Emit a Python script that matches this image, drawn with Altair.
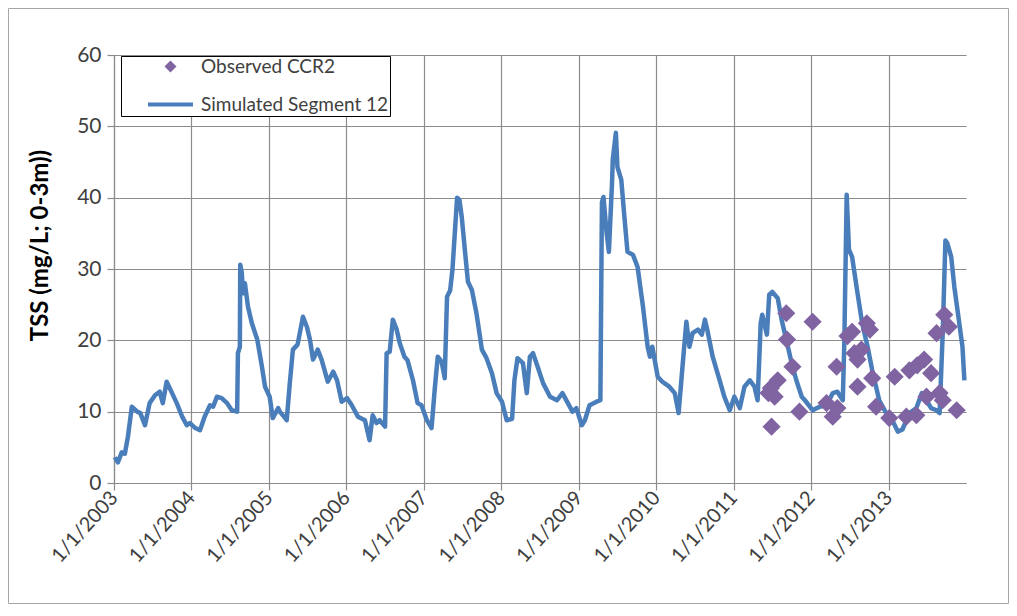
import altair as alt
import pandas as pd

# ---- data (decimal years, mg/L) ----
sim_year = [2003.01, 2003.05, 2003.10, 2003.14, 2003.18, 2003.23, 2003.30, 2003.34, 2003.40, 2003.46,
            2003.53, 2003.59, 2003.63, 2003.68, 2003.75, 2003.81, 2003.88, 2003.94, 2003.98, 2004.05,
            2004.11, 2004.17, 2004.24, 2004.28, 2004.33, 2004.39, 2004.46, 2004.52, 2004.59, 2004.60,
            2004.625, 2004.63, 2004.65, 2004.665, 2004.69, 2004.73, 2004.78, 2004.85, 2004.91, 2004.95,
            2005.01, 2005.05, 2005.12, 2005.14, 2005.21, 2005.23, 2005.27, 2005.31, 2005.37, 2005.44,
            2005.49, 2005.53, 2005.57, 2005.63, 2005.68, 2005.76, 2005.83, 2005.88, 2005.94, 2006.01,
            2006.07, 2006.15, 2006.24, 2006.30, 2006.34, 2006.39, 2006.43, 2006.50, 2006.52, 2006.56,
            2006.60, 2006.65, 2006.69, 2006.75, 2006.79, 2006.86, 2006.92, 2006.97, 2007.04, 2007.10,
            2007.14, 2007.18, 2007.23, 2007.27, 2007.30, 2007.34, 2007.37, 2007.43, 2007.46, 2007.49,
            2007.53, 2007.57, 2007.62, 2007.68, 2007.75, 2007.81, 2007.88, 2007.94, 2008.01, 2008.07,
            2008.14, 2008.17, 2008.21, 2008.28, 2008.33, 2008.37, 2008.41, 2008.47, 2008.54, 2008.63,
            2008.72, 2008.79, 2008.86, 2008.92, 2008.97, 2009.04, 2009.08, 2009.14, 2009.23, 2009.28,
            2009.30, 2009.32, 2009.36, 2009.39, 2009.43, 2009.44, 2009.48, 2009.50, 2009.55, 2009.59,
            2009.63, 2009.70, 2009.76, 2009.83, 2009.89, 2009.92, 2009.95, 2010.02, 2010.08, 2010.17,
            2010.24, 2010.29, 2010.34, 2010.39, 2010.43, 2010.47, 2010.54, 2010.59, 2010.63, 2010.66,
            2010.73, 2010.82, 2010.88, 2010.95, 2011.01, 2011.08, 2011.14, 2011.21, 2011.27, 2011.31,
            2011.35, 2011.37, 2011.43, 2011.46, 2011.50, 2011.57, 2011.62, 2011.68, 2011.75, 2011.81,
            2011.88, 2011.92, 2012.02, 2012.11, 2012.20, 2012.28, 2012.34, 2012.41, 2012.43, 2012.46,
            2012.49, 2012.53, 2012.60, 2012.66, 2012.73, 2012.79, 2012.88, 2012.97, 2013.05, 2013.12,
            2013.18, 2013.27, 2013.36, 2013.43, 2013.49, 2013.55, 2013.62, 2013.66, 2013.70, 2013.735,
            2013.76, 2013.81, 2013.85, 2013.92, 2013.955, 2013.98]
sim_tss = [3.6, 2.9, 4.3, 4.1, 6.5, 10.7, 10.0, 9.8, 8.1, 11.2,
           12.3, 12.8, 11.2, 14.2, 12.6, 11.2, 9.3, 8.1, 8.4, 7.7,
           7.4, 9.3, 10.9, 10.7, 12.1, 11.9, 11.2, 10.2, 10.0, 18.2,
           19.1, 30.6, 29.5, 26.6, 28.0, 24.7, 22.4, 20.1, 16.3, 13.5,
           12.1, 9.1, 10.5, 10.0, 9.1, 8.8, 14.0, 18.7, 19.4, 23.3,
           21.9, 20.1, 17.3, 18.7, 17.3, 14.2, 15.6, 14.4, 11.4, 11.9,
           10.9, 9.3, 8.8, 6.0, 9.5, 8.4, 8.8, 7.9, 18.2, 18.4,
           22.9, 21.5, 19.6, 17.7, 17.2, 14.4, 11.2, 10.9, 8.8, 7.7,
           13.0, 17.7, 17.0, 14.7, 26.1, 27.0, 29.9, 40.0, 39.7, 37.3,
           32.7, 28.2, 27.1, 23.8, 18.7, 17.5, 15.4, 12.6, 11.4, 8.8,
           9.0, 14.4, 17.5, 16.8, 12.6, 17.7, 18.2, 16.3, 14.0, 12.1,
           11.6, 12.6, 11.2, 10.0, 10.5, 8.1, 8.8, 10.9, 11.4, 11.6,
           39.3, 40.1, 35.1, 32.4, 42.0, 45.3, 49.1, 44.3, 42.5, 37.3,
           32.4, 32.0, 30.3, 24.7, 19.1, 17.7, 19.1, 14.9, 14.2, 13.5,
           12.6, 9.8, 16.3, 22.6, 19.1, 21.0, 21.5, 20.8, 22.9, 21.5,
           17.7, 14.4, 12.1, 10.2, 12.1, 10.5, 13.5, 14.4, 13.5, 11.6,
           22.4, 23.6, 20.8, 26.4, 26.8, 25.9, 22.9, 20.1, 16.8, 14.4,
           12.1, 11.6, 10.2, 10.7, 10.9, 12.6, 12.8, 11.6, 20.0, 40.4,
           32.7, 31.7, 26.6, 22.4, 19.1, 15.8, 11.6, 9.8, 8.8, 7.2,
           7.5, 9.8, 10.5, 12.6, 11.6, 10.5, 10.2, 9.8, 21.0, 34.0,
           33.6, 31.7, 27.5, 21.9, 19.1, 14.4]

obs_year = [2011.45, 2011.48, 2011.53, 2011.49, 2011.57, 2011.68, 2011.69, 2011.76, 2011.85, 2012.02,
            2012.20, 2012.28, 2012.34, 2012.33, 2012.47, 2012.53, 2012.56, 2012.60, 2012.65, 2012.72,
            2012.76, 2012.60, 2012.79, 2012.84, 2013.01, 2013.08, 2013.23, 2013.36, 2013.27, 2013.37,
            2013.46, 2013.55, 2013.49, 2013.66, 2013.70, 2013.62, 2013.72, 2013.78, 2013.88]
obs_tss = [12.6, 13.3, 12.1, 7.9, 14.4, 23.8, 20.1, 16.3, 10.0, 22.6,
           11.2, 9.3, 10.5, 16.3, 20.6, 21.2, 18.2, 17.3, 18.7, 22.4,
           21.5, 13.5, 14.7, 10.7, 9.1, 14.9, 9.3, 9.5, 15.8, 16.5,
           17.3, 15.4, 12.1, 12.6, 11.6, 21.0, 23.6, 21.9, 10.2]

series_names = ["Observed CCR2", "Simulated Segment 12"]
series_colors = ["#8064A2", "#4A7EBB"]
year_ticks = list(range(2003, 2014))


def to_date(years):
    base = pd.Timestamp("2003-01-01")
    return [base + pd.to_timedelta((y - 2003) * 365.25, unit="D") for y in years]


sim_df = pd.DataFrame({"date": to_date(sim_year), "tss": sim_tss})
obs_df = pd.DataFrame({"date": to_date(obs_year), "tss": obs_tss})
legend_df = pd.DataFrame({"series": series_names})

W, H = 852, 428
PAD = {"left": 106, "top": 47, "right": 43, "bottom": 121}

x_enc = alt.X(
    "date:T",
    scale=alt.Scale(domain=[alt.DateTime(year=2003, month=1, date=1),
                            alt.DateTime(year=2014, month=1, date=1)], nice=False),
    axis=alt.Axis(values=[alt.DateTime(year=y, month=1, date=1) for y in year_ticks],
                  format="%-m/%-d/%Y", labelAngle=-48, labelAlign="right",
                  labelBaseline="middle", labelPadding=4, labelOverlap=False,
                  labelFontSize=20, title=None),
)
y_enc = alt.Y(
    "tss:Q",
    scale=alt.Scale(domain=[0, 60], nice=False, zero=True),
    axis=alt.Axis(values=list(range(0, 61, 10)), title="TSS (mg/L; 0-3m))",
                  titleFontWeight="bold", titleFontSize=24, titleColor="#000000",
                  titlePadding=24, titleY=190, labelPadding=6),
)

line = alt.Chart(sim_df).mark_line(color=series_colors[1], strokeWidth=4.5,
                                   strokeJoin="round").encode(x=x_enc, y=y_enc)

pts = alt.Chart(obs_df).mark_point(shape="diamond", filled=True, size=330,
                                   color=series_colors[0], opacity=1).encode(
    x="date:T", y="tss:Q")

legend_layer = alt.Chart(legend_df).mark_point(filled=True, opacity=1).encode(
    color=alt.Color("series:N", scale=alt.Scale(domain=series_names, range=series_colors),
                    legend=alt.Legend(title=None)),
    stroke=alt.Stroke("series:N", scale=alt.Scale(domain=series_names, range=series_colors),
                      legend=alt.Legend(title=None)),
    shape=alt.Shape("series:N", scale=alt.Scale(domain=series_names, range=["diamond", "stroke"]),
                    legend=alt.Legend(title=None)),
    size=alt.Size("series:O", scale=alt.Scale(domain=series_names, range=[40, 2025]),
                  legend=alt.Legend(title=None)),
).transform_filter("false")

frame = alt.Chart(legend_df).mark_rect(fill=None, stroke="#a6a6a6", strokeWidth=1).encode(
    x=alt.value(-105.5), x2=alt.value(W + PAD["right"] - 0.5),
    y=alt.value(-46.5), y2=alt.value(H + PAD["bottom"] - 0.5),
).transform_filter("datum.series == 'Observed CCR2'")

chart = alt.layer(frame, line, pts, legend_layer).properties(
    width=W, height=H, padding=PAD, autosize=alt.AutoSizeParams(type="none"),
    background="white",
).configure_view(strokeWidth=0).configure_axis(
    labelFont="Lato", labelFontSize=21, labelColor="#404040", titleFont="Lato",
    gridColor="#8c8c8c", gridWidth=1.2, domainColor="#8c8c8c", domainWidth=1.2,
    tickColor="#8c8c8c", tickSize=7, tickWidth=1.2,
).configure_legend(
    orient="none", legendX=7, legendY=1, strokeColor="#000000", strokeWidth=1,
    fillColor="white", padding=1, rowPadding=2, symbolStrokeWidth=4,
    labelFont="Lato", labelFontSize=19, labelColor="#404040", symbolOffset=24,
    labelOffset=6, labelLimit=400,
)

chart.save("out.html", embed_options={"renderer": "svg", "actions": False})
